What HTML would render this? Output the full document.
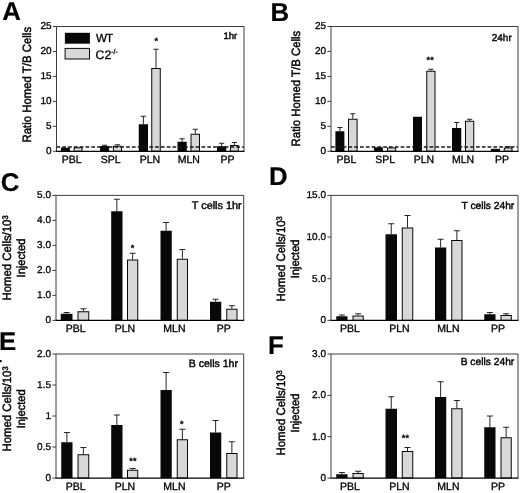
<!DOCTYPE html>
<html><head><meta charset="utf-8"><title>Figure</title>
<style>
html,body{margin:0;padding:0;background:#fff;}
svg{display:block;will-change:transform;opacity:0.999;font-family:"Liberation Sans",sans-serif;fill:#080808;text-rendering:geometricPrecision;}
.pl{font-weight:bold;font-size:25.8px;fill:#000;stroke-width:0.2px;}
.ax{stroke:#3c3c3c;stroke-width:1;fill:none;}
.axb{stroke:#000;stroke-width:1.25;fill:none;}
text{fill:#000;stroke:#000;stroke-width:0.32px;paint-order:stroke;}
.err{stroke:#1a1a1a;stroke-width:0.95;fill:none;}
.st{font-weight:bold;letter-spacing:0.3px;stroke-width:0.15px;}
.tt{stroke-width:0.42px;}
.yt{stroke-width:0.42px;}
</style></head><body>
<svg width="520" height="493" viewBox="0 0 520 493">
<text x="2.3" y="19.6" class="pl">A</text>
<rect x="60.90" y="147.65" width="9.00" height="3.60" fill="#080808"/>
<rect x="74.10" y="147.75" width="8.00" height="3.50" fill="#d8d8d8" stroke="#080808" stroke-width="1"/>
<path d="M104.60 146.00V145.25M102.00 145.25H107.20" class="err"/>
<rect x="100.10" y="146.00" width="9.00" height="5.25" fill="#080808"/>
<path d="M117.45 145.75V144.75M114.85 144.75H120.05" class="err"/>
<rect x="113.40" y="146.25" width="8.10" height="5.00" fill="#d8d8d8" stroke="#080808" stroke-width="1"/>
<path d="M143.38 124.25V116.25M140.78 116.25H145.97" class="err"/>
<rect x="138.75" y="124.25" width="9.25" height="27.00" fill="#080808"/>
<path d="M156.00 68.00V49.25M153.40 49.25H158.60" class="err"/>
<rect x="151.75" y="68.50" width="8.50" height="82.75" fill="#d8d8d8" stroke="#080808" stroke-width="1"/>
<path d="M182.12 141.75V138.75M179.53 138.75H184.72" class="err"/>
<rect x="177.50" y="141.75" width="9.25" height="9.50" fill="#080808"/>
<path d="M195.25 133.75V129.25M192.65 129.25H197.85" class="err"/>
<rect x="191.00" y="134.25" width="8.50" height="17.00" fill="#d8d8d8" stroke="#080808" stroke-width="1"/>
<path d="M221.62 146.25V143.25M219.03 143.25H224.22" class="err"/>
<rect x="217.00" y="146.25" width="9.25" height="5.00" fill="#080808"/>
<path d="M234.38 145.00V142.50M231.78 142.50H236.97" class="err"/>
<rect x="230.50" y="145.50" width="7.75" height="5.75" fill="#d8d8d8" stroke="#080808" stroke-width="1"/>
<path d="M56.5 147.0H244.0" stroke="#161616" stroke-width="1.3" stroke-dasharray="3.7 2.1" fill="none"/>
<path d="M56.5 151.25V26.5H244.0V151.25" class="ax"/>
<path d="M56.0 151.25H244.5" class="axb"/>
<path d="M52.90 26.5H56.5" class="ax"/>
<text x="51.50" y="29.30" text-anchor="end" font-size="10">25</text>
<path d="M52.90 51.45H56.5" class="ax"/>
<text x="51.50" y="54.25" text-anchor="end" font-size="10">20</text>
<path d="M52.90 76.4H56.5" class="ax"/>
<text x="51.50" y="79.20" text-anchor="end" font-size="10">15</text>
<path d="M52.90 101.35H56.5" class="ax"/>
<text x="51.50" y="104.15" text-anchor="end" font-size="10">10</text>
<path d="M52.90 126.3H56.5" class="ax"/>
<text x="51.50" y="129.10" text-anchor="end" font-size="10">5</text>
<path d="M52.90 151.25H56.5" class="ax"/>
<text x="51.50" y="154.05" text-anchor="end" font-size="10">0</text>
<text x="71.75" y="162.5" text-anchor="middle" font-size="10.5">PBL</text>
<text x="110.75" y="162.5" text-anchor="middle" font-size="10.5">SPL</text>
<text x="150" y="162.5" text-anchor="middle" font-size="10.5">PLN</text>
<text x="188.75" y="162.5" text-anchor="middle" font-size="10.5">MLN</text>
<text x="227.5" y="162.5" text-anchor="middle" font-size="10.5">PP</text>
<text x="237.3" y="38.75" text-anchor="end" font-size="9.6" class="tt">1hr</text>
<text transform="translate(31.2 84.75) rotate(-90) scale(1,1.06)" text-anchor="middle" font-size="11.4" class="yt">Ratio Homed T/B Cells</text>
<text x="156.3" y="43.6" text-anchor="middle" font-size="9" class="st">*</text>
<rect x="64.9" y="32.8" width="25" height="10.9" fill="#080808"/>
<rect x="65.1" y="48.4" width="24.4" height="10.6" fill="#d8d8d8" stroke="#080808" stroke-width="1"/>
<text x="96.1" y="42.4" font-size="11.7" letter-spacing="-1">WT</text>
<text x="95.5" y="58.5" font-size="12.3">C2<tspan font-size="6.9" dy="-4.6">-/-</tspan></text>
<text x="270.4" y="20.5" class="pl">B</text>
<path d="M339.90 131.25V127.50M337.30 127.50H342.50" class="err"/>
<rect x="335.40" y="131.25" width="9.00" height="20.00" fill="#080808"/>
<path d="M352.80 118.75V113.75M350.20 113.75H355.40" class="err"/>
<rect x="348.50" y="119.25" width="8.60" height="32.00" fill="#d8d8d8" stroke="#080808" stroke-width="1"/>
<rect x="373.90" y="147.30" width="9.00" height="3.95" fill="#080808"/>
<rect x="387.50" y="147.90" width="8.20" height="3.35" fill="#d8d8d8" stroke="#080808" stroke-width="1"/>
<rect x="413.00" y="116.75" width="9.00" height="34.50" fill="#080808"/>
<path d="M430.88 70.75V69.25M428.27 69.25H433.48" class="err"/>
<rect x="426.75" y="71.25" width="8.25" height="80.00" fill="#d8d8d8" stroke="#080808" stroke-width="1"/>
<path d="M456.62 128.00V122.50M454.02 122.50H459.23" class="err"/>
<rect x="452.00" y="128.00" width="9.25" height="23.25" fill="#080808"/>
<path d="M469.62 120.75V119.25M467.02 119.25H472.23" class="err"/>
<rect x="465.50" y="121.25" width="8.25" height="30.00" fill="#d8d8d8" stroke="#080808" stroke-width="1"/>
<rect x="490.90" y="148.80" width="9.20" height="2.45" fill="#080808"/>
<path d="M508.12 147.50V146.50M505.52 146.50H510.73" class="err"/>
<rect x="504.25" y="148.00" width="7.75" height="3.25" fill="#d8d8d8" stroke="#080808" stroke-width="1"/>
<path d="M331.0 147.0H518" stroke="#161616" stroke-width="1.3" stroke-dasharray="3.7 2.1" fill="none"/>
<path d="M331.0 151.25V26.5H518V151.25" class="ax"/>
<path d="M330.5 151.25H518.5" class="axb"/>
<path d="M327.40 26.5H331.0" class="ax"/>
<text x="326.00" y="29.30" text-anchor="end" font-size="10">25</text>
<path d="M327.40 51.45H331.0" class="ax"/>
<text x="326.00" y="54.25" text-anchor="end" font-size="10">20</text>
<path d="M327.40 76.4H331.0" class="ax"/>
<text x="326.00" y="79.20" text-anchor="end" font-size="10">15</text>
<path d="M327.40 101.35H331.0" class="ax"/>
<text x="326.00" y="104.15" text-anchor="end" font-size="10">10</text>
<path d="M327.40 126.3H331.0" class="ax"/>
<text x="326.00" y="129.10" text-anchor="end" font-size="10">5</text>
<path d="M327.40 151.25H331.0" class="ax"/>
<text x="326.00" y="154.05" text-anchor="end" font-size="10">0</text>
<text x="346.5" y="162.5" text-anchor="middle" font-size="10.5">PBL</text>
<text x="385.3" y="162.5" text-anchor="middle" font-size="10.5">SPL</text>
<text x="424" y="162.5" text-anchor="middle" font-size="10.5">PLN</text>
<text x="463" y="162.5" text-anchor="middle" font-size="10.5">MLN</text>
<text x="502" y="162.5" text-anchor="middle" font-size="10.5">PP</text>
<text x="511.75" y="40.5" text-anchor="end" font-size="10" class="tt">24hr</text>
<text transform="translate(300.1 88.6) rotate(-90) scale(1,1.06)" text-anchor="middle" font-size="11.4" class="yt">Ratio Homed T/B Cells</text>
<text x="430.3" y="62.6" text-anchor="middle" font-size="9" class="st">**</text>
<text x="0.7" y="190.7" class="pl">C</text>
<path d="M66.62 313.75V312.50M63.62 312.50H69.62" class="err"/>
<rect x="60.75" y="313.75" width="11.75" height="6.60" fill="#080808"/>
<path d="M83.38 311.25V308.75M80.38 308.75H86.38" class="err"/>
<rect x="78.00" y="311.75" width="10.75" height="8.60" fill="#d8d8d8" stroke="#080808" stroke-width="1"/>
<path d="M116.85 211.25V199.25M113.85 199.25H119.85" class="err"/>
<rect x="111.20" y="211.25" width="11.30" height="109.10" fill="#080808"/>
<path d="M132.62 259.50V253.25M129.62 253.25H135.62" class="err"/>
<rect x="127.50" y="260.00" width="10.25" height="60.35" fill="#d8d8d8" stroke="#080808" stroke-width="1"/>
<path d="M166.12 230.75V222.50M163.12 222.50H169.12" class="err"/>
<rect x="160.50" y="230.75" width="11.25" height="89.60" fill="#080808"/>
<path d="M182.38 258.75V249.50M179.38 249.50H185.38" class="err"/>
<rect x="177.25" y="259.25" width="10.25" height="61.10" fill="#d8d8d8" stroke="#080808" stroke-width="1"/>
<path d="M215.62 301.75V299.25M212.62 299.25H218.62" class="err"/>
<rect x="210.00" y="301.75" width="11.25" height="18.60" fill="#080808"/>
<path d="M231.88 308.75V305.75M228.88 305.75H234.88" class="err"/>
<rect x="226.75" y="309.25" width="10.25" height="11.10" fill="#d8d8d8" stroke="#080808" stroke-width="1"/>
<path d="M56.0 320.35V195.4H243.7V320.35" class="ax"/>
<path d="M55.5 320.35H244.2" class="axb"/>
<path d="M52.40 195.4H56.0" class="ax"/>
<text x="51.00" y="198.20" text-anchor="end" font-size="10">5.0</text>
<path d="M52.40 220.4H56.0" class="ax"/>
<text x="51.00" y="223.20" text-anchor="end" font-size="10">4.0</text>
<path d="M52.40 245.4H56.0" class="ax"/>
<text x="51.00" y="248.20" text-anchor="end" font-size="10">3.0</text>
<path d="M52.40 270.4H56.0" class="ax"/>
<text x="51.00" y="273.20" text-anchor="end" font-size="10">2.0</text>
<path d="M52.40 295.35H56.0" class="ax"/>
<text x="51.00" y="298.15" text-anchor="end" font-size="10">1.0</text>
<path d="M52.40 320.35H56.0" class="ax"/>
<text x="51.00" y="323.15" text-anchor="end" font-size="10">0</text>
<text x="75.6" y="331.75" text-anchor="middle" font-size="10.5">PBL</text>
<text x="125" y="331.75" text-anchor="middle" font-size="10.5">PLN</text>
<text x="174.4" y="331.75" text-anchor="middle" font-size="10.5">MLN</text>
<text x="223.75" y="331.75" text-anchor="middle" font-size="10.5">PP</text>
<text x="241.75" y="209.25" text-anchor="end" font-size="10.9" class="tt">T cells 1hr</text>
<text transform="translate(11.4 257.95) rotate(-90) scale(1,1.06)" text-anchor="middle" font-size="11.4" class="yt">Homed Cells/10<tspan font-size="7.6" dy="-3.2">3</tspan></text>
<text transform="translate(25.2 258.0) rotate(-90) scale(1,1.06)" text-anchor="middle" font-size="11.1" class="yt">Injected</text>
<text x="132.6" y="250.6" text-anchor="middle" font-size="9" class="st">*</text>
<text x="268.9" y="185.1" class="pl">D</text>
<path d="M341.88 316.25V315.00M338.88 315.00H344.88" class="err"/>
<rect x="336.25" y="316.25" width="11.25" height="4.10" fill="#080808"/>
<path d="M358.12 315.50V313.75M355.12 313.75H361.12" class="err"/>
<rect x="353.00" y="316.00" width="10.25" height="4.35" fill="#d8d8d8" stroke="#080808" stroke-width="1"/>
<path d="M391.25 234.25V223.75M388.25 223.75H394.25" class="err"/>
<rect x="385.50" y="234.25" width="11.50" height="86.10" fill="#080808"/>
<path d="M407.50 227.50V215.50M404.50 215.50H410.50" class="err"/>
<rect x="402.25" y="228.00" width="10.50" height="92.35" fill="#d8d8d8" stroke="#080808" stroke-width="1"/>
<path d="M440.62 247.50V239.25M437.62 239.25H443.62" class="err"/>
<rect x="435.00" y="247.50" width="11.25" height="72.85" fill="#080808"/>
<path d="M456.88 240.00V230.75M453.88 230.75H459.88" class="err"/>
<rect x="451.75" y="240.50" width="10.25" height="79.85" fill="#d8d8d8" stroke="#080808" stroke-width="1"/>
<path d="M489.88 314.25V312.50M486.88 312.50H492.88" class="err"/>
<rect x="484.25" y="314.25" width="11.25" height="6.10" fill="#080808"/>
<path d="M506.12 315.00V313.75M503.12 313.75H509.12" class="err"/>
<rect x="501.00" y="315.50" width="10.25" height="4.85" fill="#d8d8d8" stroke="#080808" stroke-width="1"/>
<path d="M331.0 320.35V195.4H518V320.35" class="ax"/>
<path d="M330.5 320.35H518.5" class="axb"/>
<path d="M327.40 195.4H331.0" class="ax"/>
<text x="326.00" y="198.20" text-anchor="end" font-size="10">15.0</text>
<path d="M327.40 237.05H331.0" class="ax"/>
<text x="326.00" y="239.85" text-anchor="end" font-size="10">10.0</text>
<path d="M327.40 278.7H331.0" class="ax"/>
<text x="326.00" y="281.50" text-anchor="end" font-size="10">5.0</text>
<path d="M327.40 320.35H331.0" class="ax"/>
<text x="326.00" y="323.15" text-anchor="end" font-size="10">0</text>
<text x="350" y="331.75" text-anchor="middle" font-size="10.5">PBL</text>
<text x="399.5" y="331.75" text-anchor="middle" font-size="10.5">PLN</text>
<text x="448.4" y="331.75" text-anchor="middle" font-size="10.5">MLN</text>
<text x="498" y="331.75" text-anchor="middle" font-size="10.5">PP</text>
<text x="514.25" y="208.75" text-anchor="end" font-size="10.25" class="tt">T cells 24hr</text>
<text transform="translate(285.0 258.8) rotate(-90) scale(1,1.06)" text-anchor="middle" font-size="11.4" class="yt">Homed Cells/10<tspan font-size="7.6" dy="-3.2">3</tspan></text>
<text transform="translate(299.0 258.9) rotate(-90) scale(1,1.06)" text-anchor="middle" font-size="11.1" class="yt">Injected</text>
<text x="-1.0" y="350.2" class="pl">E</text>
<path d="M66.88 442.25V432.50M63.88 432.50H69.88" class="err"/>
<rect x="61.25" y="442.25" width="11.25" height="35.80" fill="#080808"/>
<path d="M83.38 454.25V447.50M80.38 447.50H86.38" class="err"/>
<rect x="78.00" y="454.75" width="10.75" height="23.30" fill="#d8d8d8" stroke="#080808" stroke-width="1"/>
<path d="M116.85 425.00V415.00M113.85 415.00H119.85" class="err"/>
<rect x="111.20" y="425.00" width="11.30" height="53.05" fill="#080808"/>
<path d="M132.62 469.75V468.50M129.62 468.50H135.62" class="err"/>
<rect x="127.50" y="470.25" width="10.25" height="7.80" fill="#d8d8d8" stroke="#080808" stroke-width="1"/>
<path d="M166.12 390.00V372.50M163.12 372.50H169.12" class="err"/>
<rect x="160.50" y="390.00" width="11.25" height="88.05" fill="#080808"/>
<path d="M182.38 439.25V429.25M179.38 429.25H185.38" class="err"/>
<rect x="177.25" y="439.75" width="10.25" height="38.30" fill="#d8d8d8" stroke="#080808" stroke-width="1"/>
<path d="M215.62 432.50V420.50M212.62 420.50H218.62" class="err"/>
<rect x="210.00" y="432.50" width="11.25" height="45.55" fill="#080808"/>
<path d="M231.88 453.00V441.75M228.88 441.75H234.88" class="err"/>
<rect x="226.75" y="453.50" width="10.25" height="24.55" fill="#d8d8d8" stroke="#080808" stroke-width="1"/>
<path d="M56.0 478.05V354.0H243.7V478.05" class="ax"/>
<path d="M55.5 478.05H244.2" class="axb"/>
<path d="M52.40 354.0H56.0" class="ax"/>
<text x="51.00" y="356.80" text-anchor="end" font-size="10">2.0</text>
<path d="M52.40 385.0H56.0" class="ax"/>
<text x="51.00" y="387.80" text-anchor="end" font-size="10">1.5</text>
<path d="M52.40 416.0H56.0" class="ax"/>
<text x="51.00" y="418.80" text-anchor="end" font-size="10">1</text>
<path d="M52.40 447.05H56.0" class="ax"/>
<text x="51.00" y="449.85" text-anchor="end" font-size="10">0.5</text>
<path d="M52.40 478.05H56.0" class="ax"/>
<text x="51.00" y="480.85" text-anchor="end" font-size="10">0</text>
<text x="75.6" y="489.9" text-anchor="middle" font-size="10.5">PBL</text>
<text x="125" y="489.9" text-anchor="middle" font-size="10.5">PLN</text>
<text x="174.4" y="489.9" text-anchor="middle" font-size="10.5">MLN</text>
<text x="223.75" y="489.9" text-anchor="middle" font-size="10.5">PP</text>
<text x="238" y="367" text-anchor="end" font-size="10.55" class="tt">B cells 1hr</text>
<text transform="translate(11.45 408.95) rotate(-90) scale(1,1.06)" text-anchor="middle" font-size="11.4" class="yt">Homed Cells/10<tspan font-size="7.6" dy="-3.2">3</tspan></text>
<text transform="translate(25.2 408.8) rotate(-90) scale(1,1.06)" text-anchor="middle" font-size="11.1" class="yt">Injected</text>
<text x="133.1" y="463.6" text-anchor="middle" font-size="9" class="st">**</text>
<text x="181.9" y="426.6" text-anchor="middle" font-size="9" class="st">*</text>
<rect x="0" y="360" width="1.6" height="2.2" fill="#000"/>
<text x="268.1" y="354.4" class="pl">F</text>
<path d="M341.88 474.25V472.50M338.88 472.50H344.88" class="err"/>
<rect x="336.25" y="474.25" width="11.25" height="3.80" fill="#080808"/>
<path d="M358.12 473.00V471.25M355.12 471.25H361.12" class="err"/>
<rect x="353.00" y="473.50" width="10.25" height="4.55" fill="#d8d8d8" stroke="#080808" stroke-width="1"/>
<path d="M391.25 408.75V396.75M388.25 396.75H394.25" class="err"/>
<rect x="385.50" y="408.75" width="11.50" height="69.30" fill="#080808"/>
<path d="M407.50 451.00V447.50M404.50 447.50H410.50" class="err"/>
<rect x="402.25" y="451.50" width="10.50" height="26.55" fill="#d8d8d8" stroke="#080808" stroke-width="1"/>
<path d="M440.62 397.00V381.75M437.62 381.75H443.62" class="err"/>
<rect x="435.00" y="397.00" width="11.25" height="81.05" fill="#080808"/>
<path d="M456.88 408.25V400.50M453.88 400.50H459.88" class="err"/>
<rect x="451.75" y="408.75" width="10.25" height="69.30" fill="#d8d8d8" stroke="#080808" stroke-width="1"/>
<path d="M489.88 427.25V416.00M486.88 416.00H492.88" class="err"/>
<rect x="484.25" y="427.25" width="11.25" height="50.80" fill="#080808"/>
<path d="M506.12 437.25V427.25M503.12 427.25H509.12" class="err"/>
<rect x="501.00" y="437.75" width="10.25" height="40.30" fill="#d8d8d8" stroke="#080808" stroke-width="1"/>
<path d="M331.0 478.05V354.0H518V478.05" class="ax"/>
<path d="M330.5 478.05H518.5" class="axb"/>
<path d="M327.40 354.0H331.0" class="ax"/>
<text x="326.00" y="356.80" text-anchor="end" font-size="10">3.0</text>
<path d="M327.40 395.35H331.0" class="ax"/>
<text x="326.00" y="398.15" text-anchor="end" font-size="10">2.0</text>
<path d="M327.40 436.7H331.0" class="ax"/>
<text x="326.00" y="439.50" text-anchor="end" font-size="10">1.0</text>
<path d="M327.40 478.05H331.0" class="ax"/>
<text x="326.00" y="480.85" text-anchor="end" font-size="10">0</text>
<text x="350" y="489.9" text-anchor="middle" font-size="10.5">PBL</text>
<text x="399.5" y="489.9" text-anchor="middle" font-size="10.5">PLN</text>
<text x="448.4" y="489.9" text-anchor="middle" font-size="10.5">MLN</text>
<text x="498" y="489.9" text-anchor="middle" font-size="10.5">PP</text>
<text x="514.25" y="365" text-anchor="end" font-size="10.25" class="tt">B cells 24hr</text>
<text transform="translate(285.0 412.8) rotate(-90) scale(1,1.06)" text-anchor="middle" font-size="11.4" class="yt">Homed Cells/10<tspan font-size="7.6" dy="-3.2">3</tspan></text>
<text transform="translate(299.0 413.0) rotate(-90) scale(1,1.06)" text-anchor="middle" font-size="11.1" class="yt">Injected</text>
<text x="405.6" y="441.2" text-anchor="middle" font-size="9" class="st">**</text>
</svg>
</body></html>
